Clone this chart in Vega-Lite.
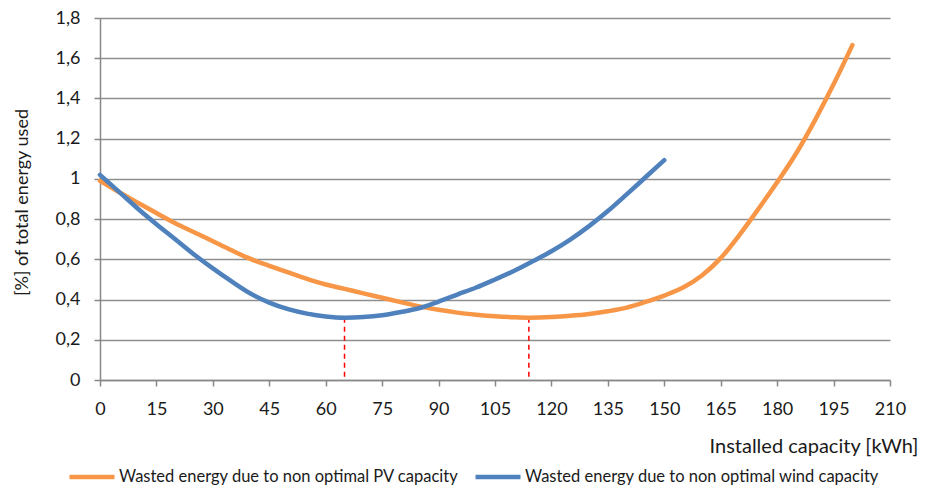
{
  "$schema": "https://vega.github.io/schema/vega-lite/v6.json",
  "width": 790,
  "height": 362,
  "autosize": {"type": "none"},
  "padding": {"left": 100, "top": 18, "right": 35, "bottom": 108},
  "background": "white",
  "config": {
    "font": "Lato",
    "view": {"stroke": null},
    "axis": {"labelFont": "Lato", "titleFont": "Lato", "labelColor": "#1a1a1a", "titleColor": "#1a1a1a", "titleFontWeight": "normal"}
  },
  "datasets": {
    "curves": [
      {"series": "Wasted energy due to non optimal PV capacity", "x": 0, "y": 0.99},
      {"series": "Wasted energy due to non optimal PV capacity", "x": 5, "y": 0.935},
      {"series": "Wasted energy due to non optimal PV capacity", "x": 10, "y": 0.882},
      {"series": "Wasted energy due to non optimal PV capacity", "x": 15, "y": 0.83},
      {"series": "Wasted energy due to non optimal PV capacity", "x": 20, "y": 0.78},
      {"series": "Wasted energy due to non optimal PV capacity", "x": 25, "y": 0.735},
      {"series": "Wasted energy due to non optimal PV capacity", "x": 30, "y": 0.69},
      {"series": "Wasted energy due to non optimal PV capacity", "x": 35, "y": 0.645},
      {"series": "Wasted energy due to non optimal PV capacity", "x": 40, "y": 0.602},
      {"series": "Wasted energy due to non optimal PV capacity", "x": 45, "y": 0.568},
      {"series": "Wasted energy due to non optimal PV capacity", "x": 50, "y": 0.535},
      {"series": "Wasted energy due to non optimal PV capacity", "x": 55, "y": 0.503},
      {"series": "Wasted energy due to non optimal PV capacity", "x": 60, "y": 0.475},
      {"series": "Wasted energy due to non optimal PV capacity", "x": 65, "y": 0.453},
      {"series": "Wasted energy due to non optimal PV capacity", "x": 70, "y": 0.431},
      {"series": "Wasted energy due to non optimal PV capacity", "x": 75, "y": 0.409},
      {"series": "Wasted energy due to non optimal PV capacity", "x": 80, "y": 0.387},
      {"series": "Wasted energy due to non optimal PV capacity", "x": 85, "y": 0.366},
      {"series": "Wasted energy due to non optimal PV capacity", "x": 90, "y": 0.349},
      {"series": "Wasted energy due to non optimal PV capacity", "x": 95, "y": 0.335},
      {"series": "Wasted energy due to non optimal PV capacity", "x": 100, "y": 0.325},
      {"series": "Wasted energy due to non optimal PV capacity", "x": 105, "y": 0.317},
      {"series": "Wasted energy due to non optimal PV capacity", "x": 110, "y": 0.312},
      {"series": "Wasted energy due to non optimal PV capacity", "x": 114, "y": 0.31},
      {"series": "Wasted energy due to non optimal PV capacity", "x": 120, "y": 0.313},
      {"series": "Wasted energy due to non optimal PV capacity", "x": 125, "y": 0.319},
      {"series": "Wasted energy due to non optimal PV capacity", "x": 130, "y": 0.328},
      {"series": "Wasted energy due to non optimal PV capacity", "x": 135, "y": 0.342},
      {"series": "Wasted energy due to non optimal PV capacity", "x": 140, "y": 0.36},
      {"series": "Wasted energy due to non optimal PV capacity", "x": 145, "y": 0.388},
      {"series": "Wasted energy due to non optimal PV capacity", "x": 150, "y": 0.42},
      {"series": "Wasted energy due to non optimal PV capacity", "x": 155, "y": 0.46},
      {"series": "Wasted energy due to non optimal PV capacity", "x": 160, "y": 0.52},
      {"series": "Wasted energy due to non optimal PV capacity", "x": 165, "y": 0.606},
      {"series": "Wasted energy due to non optimal PV capacity", "x": 170, "y": 0.722},
      {"series": "Wasted energy due to non optimal PV capacity", "x": 175, "y": 0.85},
      {"series": "Wasted energy due to non optimal PV capacity", "x": 180, "y": 0.983},
      {"series": "Wasted energy due to non optimal PV capacity", "x": 185, "y": 1.125},
      {"series": "Wasted energy due to non optimal PV capacity", "x": 190, "y": 1.29},
      {"series": "Wasted energy due to non optimal PV capacity", "x": 195, "y": 1.47},
      {"series": "Wasted energy due to non optimal PV capacity", "x": 200, "y": 1.665},
      {"series": "Wasted energy due to non optimal wind capacity", "x": 0, "y": 1.02},
      {"series": "Wasted energy due to non optimal wind capacity", "x": 5, "y": 0.937},
      {"series": "Wasted energy due to non optimal wind capacity", "x": 10, "y": 0.853},
      {"series": "Wasted energy due to non optimal wind capacity", "x": 15, "y": 0.775},
      {"series": "Wasted energy due to non optimal wind capacity", "x": 20, "y": 0.7},
      {"series": "Wasted energy due to non optimal wind capacity", "x": 25, "y": 0.624},
      {"series": "Wasted energy due to non optimal wind capacity", "x": 30, "y": 0.555},
      {"series": "Wasted energy due to non optimal wind capacity", "x": 35, "y": 0.49},
      {"series": "Wasted energy due to non optimal wind capacity", "x": 40, "y": 0.43},
      {"series": "Wasted energy due to non optimal wind capacity", "x": 45, "y": 0.385},
      {"series": "Wasted energy due to non optimal wind capacity", "x": 50, "y": 0.352},
      {"series": "Wasted energy due to non optimal wind capacity", "x": 55, "y": 0.33},
      {"series": "Wasted energy due to non optimal wind capacity", "x": 60, "y": 0.316},
      {"series": "Wasted energy due to non optimal wind capacity", "x": 65, "y": 0.31},
      {"series": "Wasted energy due to non optimal wind capacity", "x": 70, "y": 0.313},
      {"series": "Wasted energy due to non optimal wind capacity", "x": 75, "y": 0.322},
      {"series": "Wasted energy due to non optimal wind capacity", "x": 80, "y": 0.338},
      {"series": "Wasted energy due to non optimal wind capacity", "x": 85, "y": 0.358},
      {"series": "Wasted energy due to non optimal wind capacity", "x": 90, "y": 0.39},
      {"series": "Wasted energy due to non optimal wind capacity", "x": 95, "y": 0.425},
      {"series": "Wasted energy due to non optimal wind capacity", "x": 100, "y": 0.46},
      {"series": "Wasted energy due to non optimal wind capacity", "x": 105, "y": 0.5},
      {"series": "Wasted energy due to non optimal wind capacity", "x": 110, "y": 0.542},
      {"series": "Wasted energy due to non optimal wind capacity", "x": 115, "y": 0.59},
      {"series": "Wasted energy due to non optimal wind capacity", "x": 120, "y": 0.64},
      {"series": "Wasted energy due to non optimal wind capacity", "x": 125, "y": 0.698},
      {"series": "Wasted energy due to non optimal wind capacity", "x": 130, "y": 0.765},
      {"series": "Wasted energy due to non optimal wind capacity", "x": 135, "y": 0.84},
      {"series": "Wasted energy due to non optimal wind capacity", "x": 140, "y": 0.923},
      {"series": "Wasted energy due to non optimal wind capacity", "x": 145, "y": 1.008},
      {"series": "Wasted energy due to non optimal wind capacity", "x": 150, "y": 1.093}
    ],
    "minima": [
      {"x": 65, "y": 0.31},
      {"x": 114, "y": 0.31}
    ]
  },
  "layer": [
    {
      "data": {"name": "minima"},
      "mark": {"type": "rule", "color": "#ff0000", "strokeWidth": 1.5, "strokeDash": [5, 4]},
      "encoding": {
        "x": {"field": "x", "type": "quantitative"},
        "y": {"field": "y", "type": "quantitative"},
        "y2": {"datum": 0}
      }
    },
    {
      "data": {"name": "curves"},
      "mark": {"type": "line", "strokeWidth": 4.5, "strokeCap": "round", "strokeJoin": "round", "interpolate": "monotone"},
      "encoding": {
        "x": {
          "field": "x", "type": "quantitative",
          "scale": {"domain": [0, 210], "nice": false, "zero": true},
          "axis": {
            "values": [0, 15, 30, 45, 60, 75, 90, 105, 120, 135, 150, 165, 180, 195, 210],
            "title": "Installed capacity  [kWh]",
            "titleFontSize": 20, "titleAnchor": null, "titleAlign": "right", "titleX": 818, "titleY": 72, "titleBaseline": "alphabetic",
            "labelFontSize": 18, "labelPadding": 14, "tickSize": 6, "tickColor": "#888888", "domainColor": "#888888", "domainWidth": 1.5, "tickWidth": 1.5,
            "grid": false, "labelFlush": false
          }
        },
        "y": {
          "field": "y", "type": "quantitative",
          "scale": {"domain": [0, 1.8], "nice": false},
          "axis": {
            "values": [0, 0.2, 0.4, 0.6, 0.8, 1, 1.2, 1.4, 1.6, 1.8],
            "labelExpr": "replace(format(datum.value, '.1~f'), '.', ',')",
            "title": "[%] of total energy used",
            "titleFontSize": 18, "titleX": -78, "titleY": 184, "titleAlign": "center", "titleBaseline": "middle", "titleAngle": -90,
            "labelFontSize": 18, "labelPadding": 14, "tickSize": 6, "tickColor": "#888888", "tickWidth": 1.5,
            "domainColor": "#888888", "domainWidth": 1.5,
            "grid": true, "gridColor": "#8f8f8f", "gridWidth": 1.5, "labelFlush": false
          }
        },
        "color": {
          "field": "series", "type": "nominal",
          "scale": {"domain": ["Wasted energy due to non optimal PV capacity", "Wasted energy due to non optimal wind capacity"], "range": ["#F79646", "#4F81BD"]},
          "legend": {
            "title": null, "orient": "none", "direction": "horizontal", "legendX": -33, "legendY": 434,
            "symbolType": "stroke", "symbolSize": 2025, "symbolStrokeWidth": 4.5,
            "labelFont": "Lato", "labelFontSize": 16.5, "labelColor": "#1a1a1a", "labelOffset": 2, "columnPadding": 7, "labelLimit": 500
          }
        }
      }
    }
  ]
}
